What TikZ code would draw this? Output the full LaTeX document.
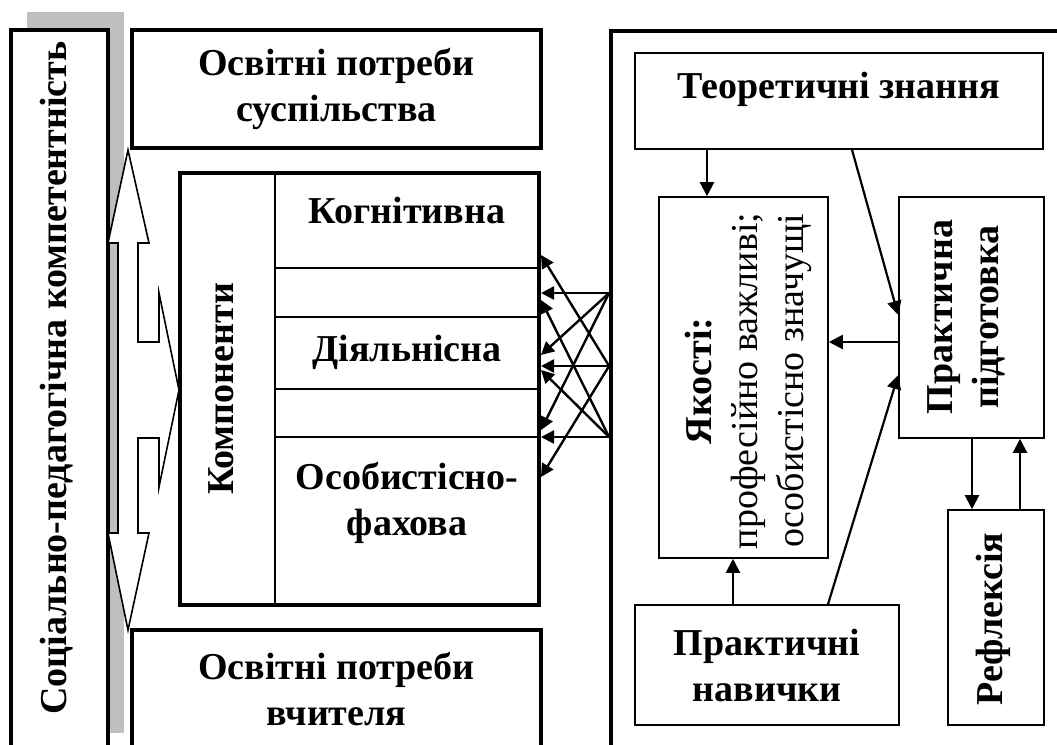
\documentclass[tikz,border=0pt]{standalone}
\usepackage{fontspec}
\setmainfont{Liberation Serif}
\usetikzlibrary{arrows.meta}

\begin{document}
\begin{tikzpicture}[x=0.5pt, y=-0.5pt,
    font=\fontsize{19}{23}\selectfont\bfseries,
    frame/.style={draw, line width=1.9pt, fill=white, inner sep=0pt},
    box/.style={draw, line width=0.8pt, inner sep=0pt},
    lbl/.style={align=center, inner sep=0pt},
    arr/.style={line width=1.1pt, -{Triangle[length=7pt,width=7pt]}},
    xarr/.style={line width=1.2pt, -{Triangle[length=6.5pt,width=6.5pt]}}]
      \useasboundingbox (0,0) rectangle (1057,745);
      \clip (0,0) rectangle (1057,745);

      % Shadow of the left frame
      \fill[black!25] (27,12) rectangle (124,733);

      % Frames
      \node[frame, minimum width=48.5pt, minimum height=385pt] (social) at (59.5,415) {};
      \node[frame, minimum width=204.5pt, minimum height=59pt] (needsoc) at (336.5,89) {};
      \node[frame, minimum width=204.5pt, minimum height=135pt] (needteach) at (336.5,765) {};
      \node[frame, line width=2pt, minimum width=179.5pt, minimum height=216pt] (komp) at (359.5,389) {};
      \node[frame, minimum width=300pt, minimum height=440pt] (outer) at (911,471) {};

      % Texts of the frames
      \node[lbl, rotate=90] (socialtxt) at (57,378) {Соціально-педагогічна компетентність};
      \node[lbl] (needsoctxt) at (needsoc.center) {Освітні потреби\\суспільства};
      \node[lbl] (needteachtxt) at (336.5,689) {Освітні потреби\\вчителя};

      % Triple block arrow
      \draw[line width=0.8pt, fill=white] (128,150) -- (149,243) -- (138,243) -- (138,342)
        -- (159,342) -- (159,293) -- (179,390) -- (159,487) -- (159,438) -- (138,438)
        -- (138,533) -- (149,533) -- (128,630) -- (108,533) -- (118,533) -- (118,243)
        -- (108,243) -- cycle;

      % Components
      \draw[line width=0.8pt] (komp.north -| 275,0) -- (komp.south -| 275,0);
      \foreach \y in {268,317,389,437}
        \draw[line width=0.8pt] (275,\y) -- (komp.east |- 0,\y);
      \node[lbl, rotate=90] (kompname) at (221,389) {Компоненти};
      \node[lbl] (kogn) at (407,210) {Когнітивна};
      \node[lbl] (diyal) at (407,352) {Діяльнісна};
      \node[lbl] (osob) at (407,503) {Особистісно-\\фахова};

      % Links between the two parts
      \foreach \s/\t in {293/293, 293/355, 293/430, 366/366, 366/255, 366/477, 437/437, 437/300, 437/370}
        \draw[xarr] (outer.west |- 0,\s) -- (komp.east |- 0,\t);

      % Right part
      \node[box, minimum width=204pt, minimum height=48pt] (teor) at (839,101) {};
      \node[lbl] (teortxt) at (839,89) {Теоретичні знання};
      \node[box, minimum width=84.5pt, minimum height=180.5pt] (yak) at (743.5,377.5) {};
      \node[lbl, rotate=90] (yaktxt) at (748,381) {Якості:\\\mdseries професійно важливі;\\\mdseries особистісно значущі};
      \node[box, minimum width=72.5pt, minimum height=120.5pt] (prak) at (971.5,317.5) {};
      \node[lbl, rotate=90] (praktxt) at (966,317) {Практична\\підготовка};
      \node[box, minimum width=132pt, minimum height=60pt] (nav) at (767,665) {};
      \node[lbl] (navtxt) at (nav.center) {Практичні\\навички};
      \node[box, minimum width=48pt, minimum height=107.5pt] (refl) at (996,617.5) {};
      \node[lbl, rotate=90] (refltxt) at (993,619) {Рефлексія};

      % Arrows
      \draw[arr] (teor.south -| 707,0) -- (yak.north -| 707,0);
      \draw[arr] (teor.south -| 852,0) -- (prak.west |- 0,315);
      \draw[arr] (prak.west |- 0,342) -- (yak.east |- 0,342);
      \draw[arr] (nav.north -| 828,0) -- (prak.west |- 0,375);
      \draw[arr] (nav.north -| 733,0) -- (yak.south -| 733,0);
      \draw[arr] (prak.south -| 972,0) -- (refl.north -| 972,0);
      \draw[arr] (refl.north -| 1020,0) -- (prak.south -| 1020,0);
\end{tikzpicture}
\end{document}
